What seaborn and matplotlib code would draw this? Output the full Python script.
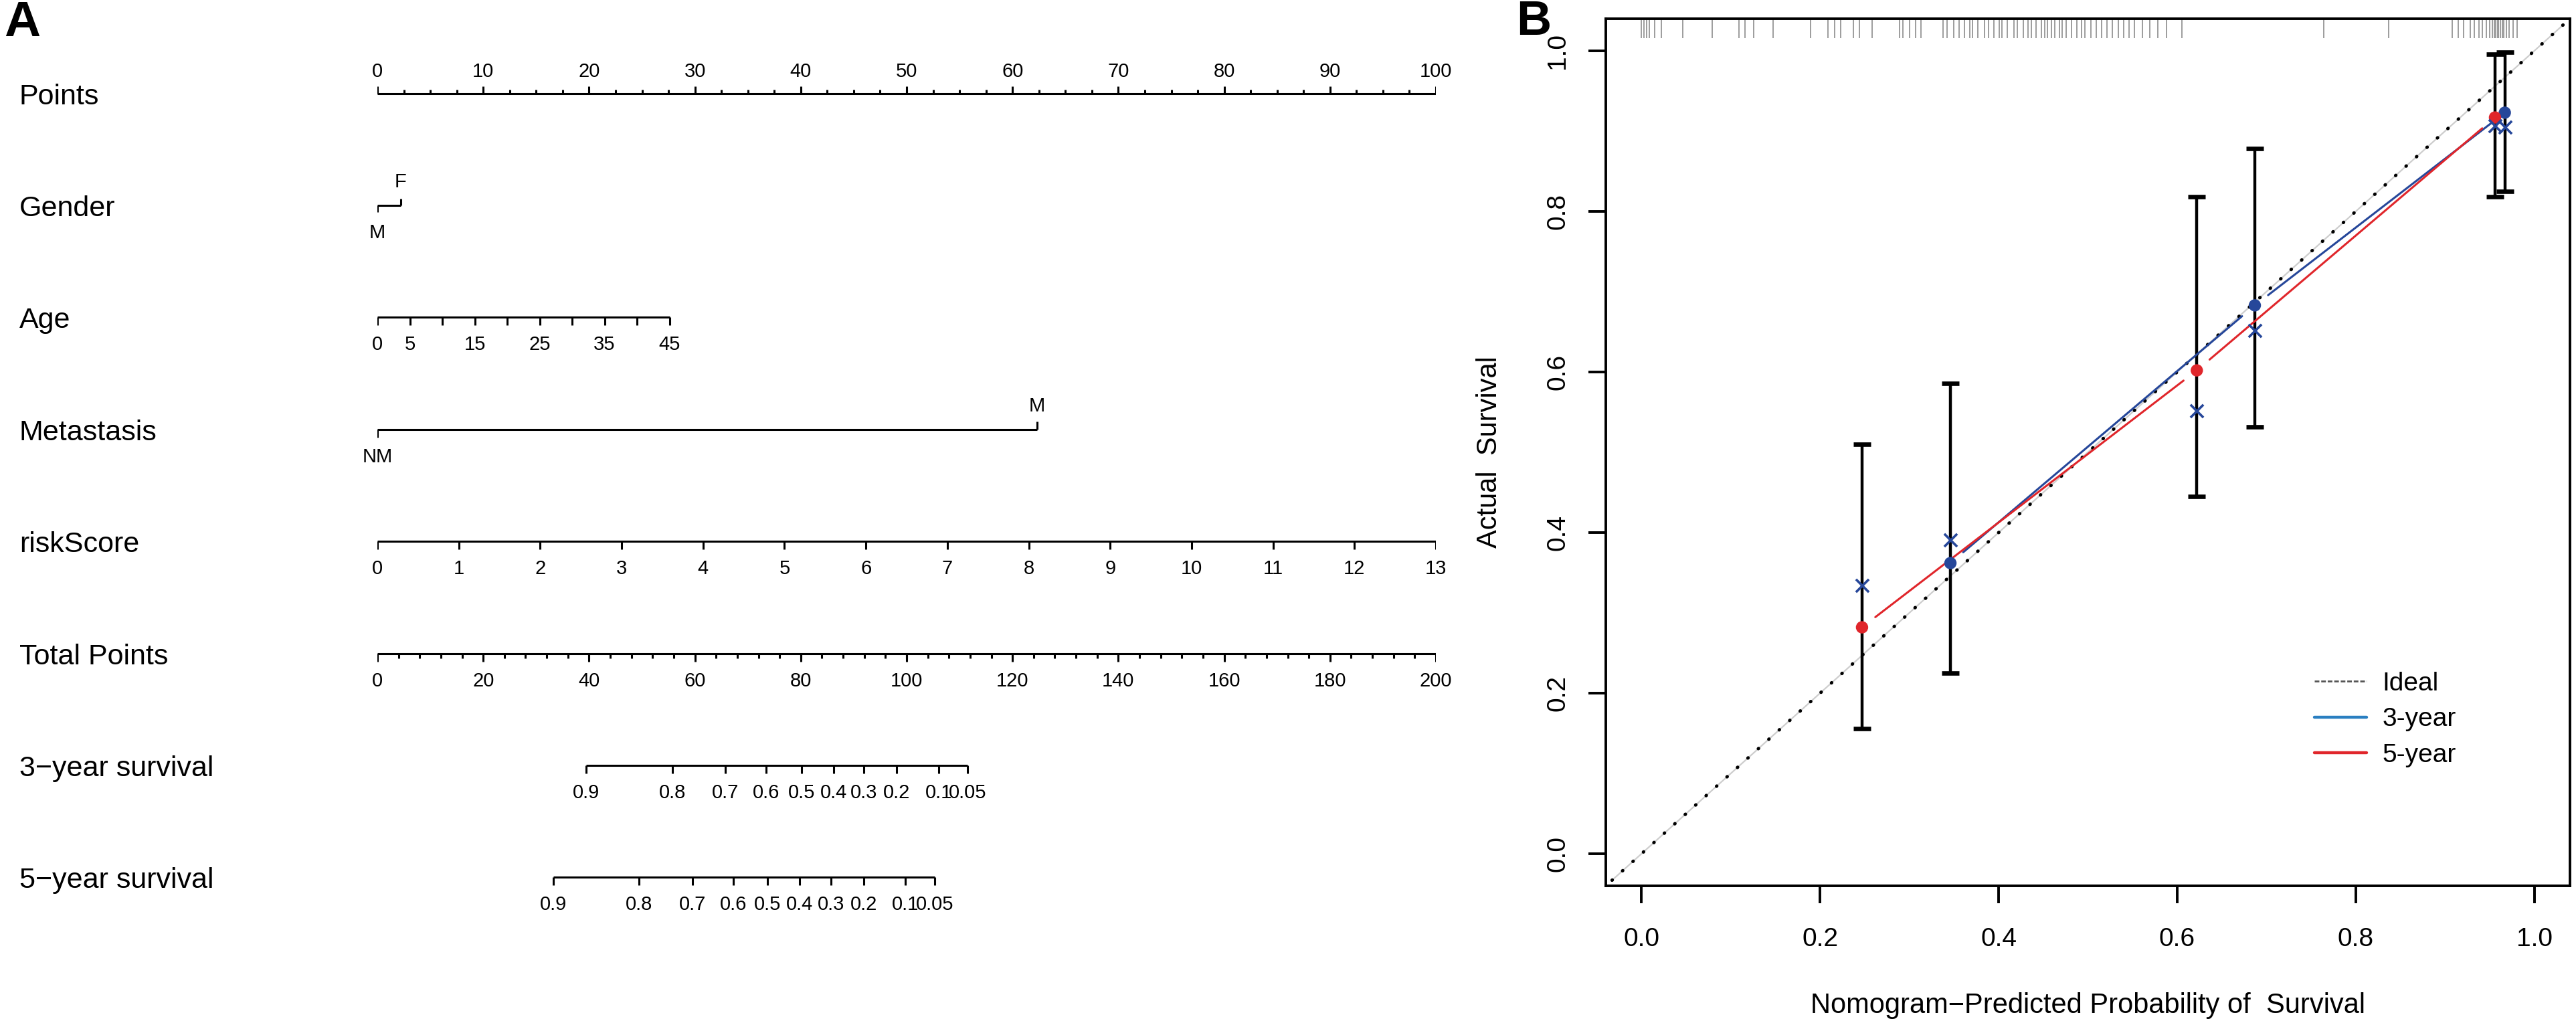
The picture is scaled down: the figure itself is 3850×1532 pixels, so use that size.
import numpy as np
import pandas as pd
import matplotlib.pyplot as plt
from matplotlib.lines import Line2D
import matplotlib.transforms as mtransforms
import seaborn as sns

# ---------------- panel A: nomogram ----------------
row_names = ['Points', 'Gender', 'Age', 'Metastasis', 'riskScore', 'Total Points',
             '3\u2212year survival', '5\u2212year survival']

points_major = [0, 10, 20, 30, 40, 50, 60, 70, 80, 90, 100]
gender_levels = ['M', 'F']
gender_points = [0, 2.2]
age_values = [0, 5, 10, 15, 20, 25, 30, 35, 40, 45]
age_shown = [0, 5, 15, 25, 35, 45]
age_max_points = 27.6
meta_levels = ['NM', 'M']
meta_points = [0, 62.3]
risk_values = [0, 1, 2, 3, 4, 5, 6, 7, 8, 9, 10, 11, 12, 13]
risk_max_points = 100
total_major = [0, 20, 40, 60, 80, 100, 120, 140, 160, 180, 200]
surv_labels = ['0.9', '0.8', '0.7', '0.6', '0.5', '0.4', '0.3', '0.2', '0.1', '0.05']
surv3_total = [39.4, 55.8, 65.8, 73.5, 80.1, 86.2, 91.9, 98.1, 106.1, 111.5]
surv5_total = [33.3, 49.4, 59.6, 67.3, 73.7, 79.8, 85.7, 91.9, 99.7, 105.3]

# ---------------- panel B: calibration curve ----------------
bar_x = [0.247, 0.346, 0.622, 0.687, 0.956, 0.967]
bar_lo = [0.156, 0.225, 0.445, 0.532, 0.818, 0.825]
bar_hi = [0.510, 0.586, 0.818, 0.878, 0.996, 0.998]

yr3_x = [0.346, 0.687, 0.967]
yr3_obs = [0.362, 0.683, 0.923]
yr3_cor = [0.391, 0.652, 0.905]
yr5_x = [0.247, 0.622, 0.956]
yr5_obs = [0.282, 0.602, 0.917]
yr5_cor = [0.334, 0.552, 0.907]

ideal_range = [-0.033, 1.033]

rug_x = [0.000, 0.003, 0.006, 0.009, 0.015, 0.022, 0.046, 0.079, 0.109, 0.116,
         0.126, 0.147, 0.189, 0.209, 0.216, 0.223, 0.237, 0.244, 0.258, 0.289,
         0.293, 0.300, 0.307, 0.313, 0.338, 0.342, 0.350, 0.356, 0.362, 0.368,
         0.371, 0.377, 0.384, 0.389, 0.395, 0.401, 0.404, 0.410, 0.417, 0.421,
         0.428, 0.433, 0.437, 0.442, 0.448, 0.452, 0.455, 0.459, 0.463, 0.468,
         0.471, 0.476, 0.482, 0.488, 0.493, 0.497, 0.503, 0.509, 0.515, 0.521,
         0.527, 0.534, 0.540, 0.546, 0.552, 0.561, 0.569, 0.578, 0.588, 0.605,
         0.764, 0.837, 0.908, 0.915, 0.921, 0.928, 0.933, 0.938, 0.942, 0.946,
         0.950, 0.953, 0.955, 0.957, 0.959, 0.960, 0.962, 0.964, 0.966, 0.969,
         0.972, 0.976, 0.981]

NAVY = '#26479a'
RED = '#e0262b'
LEG_BLUE = '#2a7fc1'

sns.set_theme(style='ticks')
plt.rcParams['font.family'] = ['Liberation Sans', 'DejaVu Sans']
plt.rcParams['axes.edgecolor'] = 'black'
plt.rcParams['text.color'] = 'black'
plt.rcParams['xtick.color'] = 'black'
plt.rcParams['ytick.color'] = 'black'
plt.rcParams['axes.labelcolor'] = 'black'

fig = plt.figure(figsize=(19.25, 7.66), dpi=200)

# ---- nomogram axes ----
ax0 = fig.add_axes([564 / 3850, 0.0894, (2146 - 564) / 3850, 0.874])
ax0.set_xlim(0, 100)
ax0.set_ylim(7.5, -0.5)
ax0.axis('off')

ROW = 167.4
LW = 1.1
TICK = 12 / ROW
MINOR = 7 / ROW
OFF = 38 / ROW
FS = 10.5

lab_tr = mtransforms.blended_transform_factory(fig.transFigure, ax0.transData)
for i, name in enumerate(row_names):
    ax0.text(29 / 3850, i + 16 / ROW, name, transform=lab_tr, ha='left', va='baseline',
             fontsize=15.5)


def scale_row(row, pos, labels, up=False, tick=TICK, off=OFF, minor_pos=None, minor_len=MINOR):
    s = -1 if up else 1
    ax0.plot([min(pos), max(pos)], [row, row], color='black', lw=LW, solid_capstyle='butt')
    ax0.vlines(pos, row, row + s * tick, color='black', lw=LW)
    if minor_pos is not None:
        ax0.vlines(minor_pos, row, row + s * minor_len, color='black', lw=LW)
    for p, lab in zip(pos, labels):
        if lab is None:
            continue
        ax0.text(p, row + s * off, lab, ha='center', va='center_baseline', fontsize=FS)


# Points
scale_row(0, points_major, [str(v) for v in points_major], up=True,
          tick=11 / ROW, off=36 / ROW, minor_pos=np.arange(0, 100.1, 2.5), minor_len=6 / ROW)

# Gender
ax0.plot(gender_points, [1, 1], color='black', lw=LW, solid_capstyle='butt')
ax0.vlines([gender_points[0]], 1, 1 + 10 / ROW, color='black', lw=LW)
ax0.vlines([gender_points[1]], 1, 1 - 10 / ROW, color='black', lw=LW)
ax0.text(gender_points[0], 1 + OFF, gender_levels[0], ha='center', va='center_baseline', fontsize=FS)
ax0.text(gender_points[1], 1 - OFF, gender_levels[1], ha='center', va='center_baseline', fontsize=FS)

# Age
age_pts = [a / age_values[-1] * age_max_points for a in age_values]
scale_row(2, age_pts, [str(a) if a in age_shown else None for a in age_values])

# Metastasis
ax0.plot(meta_points, [3, 3], color='black', lw=LW, solid_capstyle='butt')
ax0.vlines([meta_points[0]], 3, 3 + TICK, color='black', lw=LW)
ax0.vlines([meta_points[1]], 3, 3 - TICK, color='black', lw=LW)
ax0.text(meta_points[0], 3 + OFF, meta_levels[0], ha='center', va='center_baseline', fontsize=FS)
ax0.text(meta_points[1], 3 - OFF, meta_levels[1], ha='center', va='center_baseline', fontsize=FS)

# riskScore
risk_pts = [r / risk_values[-1] * risk_max_points for r in risk_values]
scale_row(4, risk_pts, [str(r) for r in risk_values])

# Total points (0-200 mapped onto the 0-100 points axis)
scale_row(5, [t / 2 for t in total_major], [str(t) for t in total_major],
          minor_pos=np.arange(0, 200.1, 4) / 2)

# survival scales
scale_row(6, [t / 2 for t in surv3_total], surv_labels)
scale_row(7, [t / 2 for t in surv5_total], surv_labels)

# ---- calibration axes ----
ax1 = fig.add_axes([2400 / 3850, 1 - 1324 / 1532, (3841 - 2400) / 3850, (1324 - 28) / 1532])
ax1.set_xlim(-0.04, 1.04)
ax1.set_ylim(-0.04, 1.04)

ideal = pd.DataFrame({'x': ideal_range, 'y': ideal_range})
ax1.plot(ideal['x'], ideal['y'], color='#cdcdcd', lw=0.8, zorder=1)
sns.lineplot(data=ideal, x='x', y='y', ax=ax1, color='black', lw=1.8,
             linestyle=(0, (0.1, 4.1)), dash_capstyle='round', zorder=2)

# rug of predicted probabilities along the top
ax1.vlines(rug_x, 1 - 29 / 1296, 1.0, transform=ax1.get_xaxis_transform(),
           color='#8c8c8c', lw=0.6, zorder=1)

ax1.errorbar(bar_x, bar_lo,
             yerr=[np.zeros(len(bar_x)), np.array(bar_hi) - np.array(bar_lo)],
             fmt='none', ecolor='black', elinewidth=1.6, capsize=4.8, capthick=2.4, zorder=3)


def gapped(xs, ys, color, gap=25):
    pts = ax1.transData.transform(np.column_stack([xs, ys]))
    inv = ax1.transData.inverted()
    for p, q in zip(pts[:-1], pts[1:]):
        d = q - p
        u = d / np.hypot(*d)
        a = inv.transform(p + u * gap)
        b = inv.transform(q - u * gap)
        ax1.plot([a[0], b[0]], [a[1], b[1]], color=color, lw=1.1, zorder=4)


gapped(yr3_x, yr3_obs, NAVY)
gapped(yr5_x, yr5_obs, RED)

obs = pd.DataFrame({'x': yr3_x + yr5_x, 'y': yr3_obs + yr5_obs,
                    'grp': ['3-year'] * 3 + ['5-year'] * 3})
sns.scatterplot(data=obs, x='x', y='y', hue='grp', palette={'3-year': NAVY, '5-year': RED},
                s=44, linewidth=0, legend=False, ax=ax1, zorder=5)
sns.scatterplot(x=yr3_x + yr5_x, y=yr3_cor + yr5_cor, marker='x', color=NAVY,
                s=48, linewidth=1.3, ax=ax1, zorder=6)

ticks = [0.0, 0.2, 0.4, 0.6, 0.8, 1.0]
ax1.set_xticks(ticks)
ax1.set_xticklabels(['%.1f' % t for t in ticks])
ax1.set_yticks(ticks)
ax1.set_yticklabels(['%.1f' % t for t in ticks], rotation=90, va='center')
ax1.tick_params(direction='out', length=9.4, width=1.4, labelsize=14)
ax1.tick_params(axis='x', pad=13)
ax1.tick_params(axis='y', pad=10)
for sp in ax1.spines.values():
    sp.set_visible(True)
    sp.set_linewidth(1.4)
    sp.set_color('black')

ax1.set_xlabel('Nomogram\u2212Predicted Probability of  Survival', fontsize=15, va='center')
ax1.xaxis.set_label_coords(0.5, -0.138)
ax1.set_ylabel('Actual  Survival', fontsize=15, va='center')
ax1.yaxis.set_label_coords(-0.1207, 0.5)

handles = [Line2D([], [], color='#555555', lw=1.0, linestyle=(0, (2.5, 1))),
           Line2D([], [], color=LEG_BLUE, lw=1.6),
           Line2D([], [], color=RED, lw=1.6)]
ax1.legend(handles, ['Ideal', '3-year', '5-year'], loc='upper left',
           bbox_to_anchor=(0.735, 0.247), frameon=False, fontsize=14,
           handlelength=2.0, handletextpad=0.6, labelspacing=0.45,
           borderpad=0, borderaxespad=0)

fig.text(33 / 3850, 1 - 35 / 1532, 'A', fontsize=27, fontweight='bold', ha='center', va='center')
fig.text(2292 / 3850, 1 - 33 / 1532, 'B', fontsize=26, fontweight='bold', ha='center', va='center')

fig.savefig('out.png', dpi=200)
